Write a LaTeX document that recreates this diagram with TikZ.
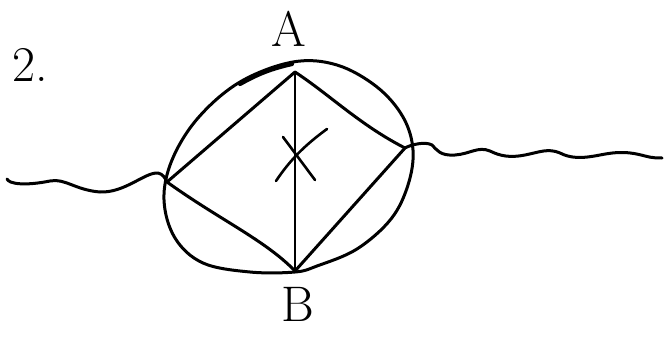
\documentclass[tikz,border=0pt]{standalone}
\begin{document}
\begin{tikzpicture}[x=1pt,y=-1pt,
  ink/.style={line width=3pt,line cap=round,line join=round},
  thin ink/.style={line width=2.6pt,line cap=round,line join=round},
  lbl/.style={inner sep=0pt,font=\fontsize{50}{50}\selectfont}]
\useasboundingbox (0,0) rectangle (664,348);
% vertices
\coordinate (A) at (295,72);
\coordinate (B) at (295,271);
\coordinate (L) at (167,182);
\coordinate (R) at (405,148);
% circle
\draw[ink] plot[smooth cycle,tension=0.6] coordinates {
  (293,62) (337,65) (377,87) (403,117) (413,150) (408,185) (391,219)
  (357,249) (317,266) (295,272) (250,272) (203,263) (175,238) (164,200)
  (172,160) (198,118) (240,82)};
\draw[line width=4.2pt,line cap=round] (240,84) to[bend left=8] (292,64);
% diamond
\draw[ink] (A) -- (L);
\draw[ink] (L) .. controls (220,220) and (265,240) .. (B);
\draw[ink] (B) -- (R);
\draw[ink] (A) .. controls (330,95) and (360,125) .. (R);
\draw[thin ink] (A) -- (B);
% X mark
\coordinate (x1) at (283,137); \coordinate (x2) at (315,180);
\coordinate (x3) at (327,129); \coordinate (x4) at (276,181);
\draw[thin ink] (x1) -- (x2);
\draw[thin ink] (x3) .. controls (305,145) and (290,160) .. (x4);
% wavy lines
\coordinate (w0) at (7,179);
\coordinate (w9) at (662,158);
\draw[ink] (w0) .. controls (9,184) and (25,186) .. (50,181)
  .. controls (65,178) and (75,190) .. (100,192)
  .. controls (125,193) and (145,172) .. (158,173)
  .. controls (163,174) and (165,178) .. (L);
\draw[ink] (R) .. controls (410,145) and (425,141) .. (432,145)
  .. controls (437,150) and (440,156) .. (455,155)
  .. controls (470,154) and (478,146) .. (490,151)
  .. controls (500,156) and (510,158) .. (525,155)
  .. controls (540,152) and (548,148) .. (560,153)
  .. controls (570,158) and (580,159) .. (600,155)
  .. controls (620,151) and (630,152) .. (645,156)
  .. controls (652,158) and (658,158) .. (w9);
% labels
\node[lbl,anchor=south west] (two) at (12,82) {2.};
\node[lbl,anchor=south] (la) at (289,47) {A};
\node[lbl,anchor=north] (lb) at (298,287) {B};
\end{tikzpicture}
\end{document}
